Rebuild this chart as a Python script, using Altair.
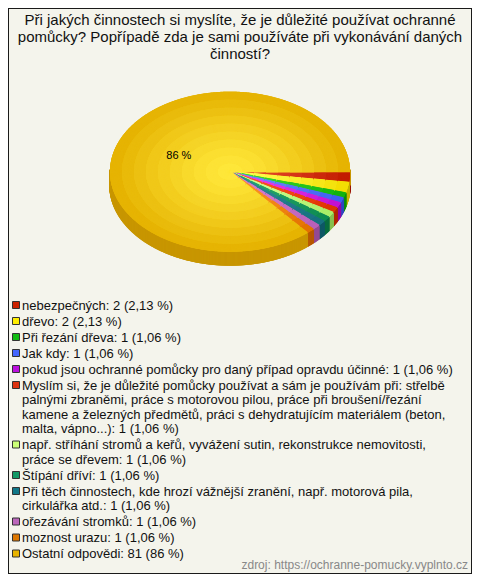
import textwrap
import numpy as np
import altair as alt
import pandas as pd

# ---------------- data ----------------
TITLE = ("Při jakých činnostech si myslíte, že je důležité používat ochranné "
         "pomůcky? Popřípadě zda je sami používáte při vykonávání daných činností?")
LABELS = [
    "nebezpečných",
    "dřevo",
    "Při řezání dřeva",
    "Jak kdy",
    "pokud jsou ochranné pomůcky pro daný případ opravdu účinné",
    "Myslím si, že je důležité pomůcky používat a sám je používám při: střelbě "
    "palnými zbraněmi, práce s motorovou pilou, práce při broušení/řezání kamene "
    "a železných předmětů, práci s dehydratujícím materiálem (beton, malta, vápno...)",
    "např. stříhání stromů a keřů, vyvážení sutin, rekonstrukce nemovitosti, práce se dřevem",
    "Štípání dříví",
    "Při těch činnostech, kde hrozí vážnější zranění, např. motorová pila, cirkulářka atd.",
    "ořezávání stromků",
    "moznost urazu",
    "Ostatní odpovědi",
]
COUNTS = [2, 2, 1, 1, 1, 1, 1, 1, 1, 1, 1, 81]
PCTS = ["2,13 %", "2,13 %", "1,06 %", "1,06 %", "1,06 %", "1,06 %",
        "1,06 %", "1,06 %", "1,06 %", "1,06 %", "1,06 %", "86 %"]
SOURCE = "zdroj: https://ochranne-pomucky.vyplnto.cz"

# ---------------- styles ----------------
LEGEND_COLORS = ["#cc2200", "#ffee00", "#11bb11", "#4466ff", "#bb11dd", "#dd3311",
                 "#ccff77", "#119966", "#117788", "#bb66bb", "#dd7700", "#e8b400"]
TOP_CENTER = ["#e8502e", "#ffff55", "#44dd33", "#6f8fff", "#ee44ee", "#ff5a25",
              "#d8ff99", "#2aaa70", "#2f8898", "#dd80d0", "#ff9a2a", "#ffe83c"]
TOP_EDGE = ["#c01a00", "#f2dc00", "#0fb00f", "#3e5cf0", "#c010d0", "#dd3300",
            "#a8ee66", "#0e8a50", "#17707f", "#b860b8", "#e07000", "#e4b000"]
SIDE = ["#9c1400", "#c8b400", "#0a8e0a", "#2f48c0", "#9408a6", "#b02a00",
        "#88c050", "#0a6e40", "#0f5866", "#944a94", "#b85800", "#c89600"]

W, H = 464, 566
CX, CY, RX, RY, DEPTH = 222, 163.7, 120, 80, 14
NRING = 10
M = 16  # pie samples per answer
FONT = "Liberation Sans"
LEG_Y0, LEG_STEP, LEG_LH = 297, 16.0, 14.5


def hex2rgb(h):
    h = h.lstrip("#")
    return [int(h[i:i + 2], 16) for i in (0, 2, 4)]


def mix(c1, c2, t):
    a, b = hex2rgb(c1), hex2rgb(c2)
    return "#" + "".join(f"{round(x + (y - x) * t):02x}" for x, y in zip(a, b))


dom, rng = [], []
for i in range(len(LABELS)):
    for ri in range(NRING):
        frac = 1 - ri / NRING
        t = max(0.0, frac - 0.5 / NRING) ** 1.3
        dom.append(f"{i}_{ri}")
        rng.append(mix(TOP_CENTER[i], TOP_EDGE[i], t))
    dom.append(f"{i}_s")
    rng.append(SIDE[i])
    dom.append(f"{i}_l")
    rng.append(LEGEND_COLORS[i])

slices = pd.DataFrame({"label": LABELS, "n": COUNTS, "pct": PCTS, "idx": list(range(len(LABELS)))})
# one row per pie sample (M per answer), carrying only the slice it belongs to
samples = pd.DataFrame({"idx": np.repeat(np.arange(len(LABELS)), np.array(COUNTS) * M)})

leg_rows = []
for i, (l, c, p) in enumerate(zip(LABELS, COUNTS, PCTS)):
    for li, line in enumerate(textwrap.wrap(f"{l}: {c} ({p})", 74)):
        leg_rows.append({"idx": i, "li": li, "line": line})
legend_df = pd.DataFrame(leg_rows)
title_df = pd.DataFrame({"li": list(range(3)), "line": textwrap.wrap(TITLE, 66)})
source_df = pd.DataFrame({"line": [SOURCE]})

XS = alt.Scale(domain=[0, W], range=[0, W], nice=False, zero=False)
YS = alt.Scale(domain=[0, H], range=[0, H], nice=False, zero=False)
COL = alt.Scale(domain=dom, range=rng)


def X(f):
    return alt.X(f, type="quantitative", scale=XS, axis=None)


def Y(f):
    return alt.Y(f, type="quantitative", scale=YS, axis=None)


pie_base = alt.Chart(samples).transform_window(
    k="row_number()", sort=[alt.SortField("idx")]
).transform_joinaggregate(N="count()").transform_calculate(
    a="2*PI*(datum.k - 0.5)/datum.N"
)


def ring(ri):
    frac = 1 - ri / NRING
    step = max(1, int(1 / frac + 1e-9))
    return pie_base.transform_filter(f"datum.k % {step} == 0").transform_calculate(
        cx=f"{CX}", cy=f"{CY}",
        px=f"{CX} + {RX * frac}*cos(datum.a)",
        py=f"{CY} + {RY * frac}*sin(datum.a)",
        key=f"datum.idx + '_{ri}'",
    )


side = ring(0).transform_filter("sin(datum.a) >= -0.03").transform_calculate(
    pyb=f"datum.py + {DEPTH}", key2="datum.idx + '_s'"
).mark_rule(strokeWidth=1.6).encode(
    x=X("px"), y=Y("py"), y2="pyb:Q",
    color=alt.Color("key2:N", scale=COL, legend=None),
)

layers = [side]
for ri in range(NRING):
    layers.append(
        ring(ri).mark_rule(strokeWidth=1.6).encode(
            x=X("cx"), x2="px:Q", y=Y("cy"), y2="py:Q",
            color=alt.Color("key:N", scale=COL, legend=None),
        )
    )

# percentage label on the big slice
pie_label = alt.Chart(slices).transform_joinaggregate(total="sum(n)").transform_window(
    cum_end="sum(n)", sort=[alt.SortField("idx")], frame=[None, 0]
).transform_filter("datum.n/datum.total > 0.5").transform_calculate(
    mid="PI*(2*datum.cum_end - datum.n)/datum.total"
).transform_calculate(
    lx=f"{CX} + {RX}*0.47*cos(datum.mid)",
    ly=f"{CY} + {RY}*0.47*sin(datum.mid)",
).mark_text(font=FONT, fontSize=11, color="#000", align="center", baseline="middle").encode(
    x=X("lx"), y=Y("ly"), text="pct:N"
)
layers.append(pie_label)

# legend
leg = alt.Chart(legend_df).transform_window(
    g="row_number()", sort=[alt.SortField("idx"), alt.SortField("li")]
).transform_calculate(
    yc=f"{LEG_Y0} + {LEG_LH}*(datum.g - 1) + {LEG_STEP - LEG_LH}*datum.idx",
    sx="8", tx="14", key="datum.idx + '_l'",
).transform_calculate(
    ty="datum.yc + 4.6"
)
leg_sq = leg.transform_filter("datum.li == 0").mark_square(
    size=49, stroke="#333", strokeWidth=1, opacity=1
).encode(x=X("sx"), y=Y("yc"), fill=alt.Fill("key:N", scale=COL, legend=None))
leg_tx = leg.mark_text(font=FONT, fontSize=13, color="#111", align="left",
                       baseline="alphabetic").encode(
    x=X("tx"), y=Y("ty"), text="line:N"
)
layers += [leg_sq, leg_tx]

title = alt.Chart(title_df).transform_calculate(
    tx=f"{W / 2}", ty="17 + 16.8*datum.li"
).mark_text(font=FONT, fontSize=15, color="#111", align="center", baseline="alphabetic").encode(
    x=X("tx"), y=Y("ty"), text="line:N"
)
source = alt.Chart(source_df).transform_calculate(tx="460", ty="561").mark_text(
    font=FONT, fontSize=12, color="#888", align="right", baseline="alphabetic"
).encode(x=X("tx"), y=Y("ty"), text="line:N")
layers += [title, source]

chart = alt.layer(*layers).properties(
    width=W, height=H, autosize=alt.AutoSizeParams(type="none"), padding=0,
    background="#f4f4ec",
).configure_view(stroke="#1a1a1a", strokeWidth=2)

chart.save("out.html", embed_options={"renderer": "svg", "actions": False})
